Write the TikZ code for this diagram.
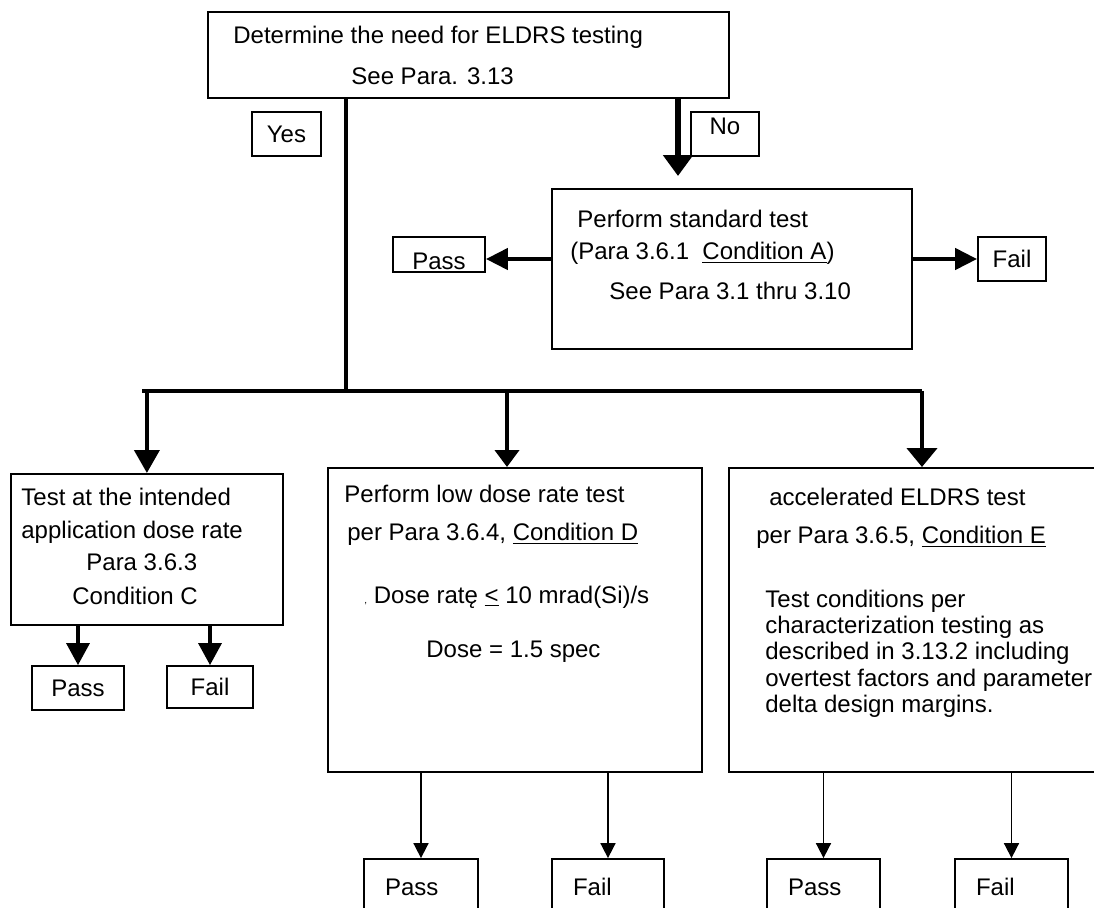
\documentclass[tikz,border=0pt]{standalone}
\usepackage{fontspec}
\setmainfont{Liberation Sans}
\usetikzlibrary{arrows.meta}

\tikzset{
    boxline/.style={draw, line width=0.9pt, inner sep=0pt, anchor=north west},
    tbox/.style={draw, line width=0.9pt, inner sep=0pt, minimum height=22pt},
    endbox/.style={draw, line width=0.9pt, inner xsep=10.5pt, inner ysep=0pt, minimum height=28pt, text width=#1, align=left},
    txt/.style={anchor=base west, inner sep=0pt},
    trunk/.style={line width=1.7pt},
    droparrow/.style={-{Triangle[width=12pt,length=10pt]}, line width=2pt},
    noarrow/.style={-{Triangle[width=14.5pt,length=10.5pt]}, line width=3pt},
    sidearrow/.style={-{Triangle[width=10.5pt,length=11pt]}, line width=2.2pt},
    smallarrow/.style={-{Triangle[width=11.5pt,length=11pt]}, line width=1.7pt},
    thinarrow/.style={-{Triangle[width=7.5pt,length=7.5pt]}, line width=0.85pt},
}

\begin{document}
\begin{tikzpicture}[x=0.5pt, y=-0.5pt, font=\fontsize{12pt}{14pt}\selectfont]

\useasboundingbox (0,0) rectangle (1094,907);
\clip (0,0) rectangle (1094,907);
\fill[white] (0,0) rectangle (1094,907);

% top question
  \node[boxline, minimum width=260.5pt, minimum height=43pt] (need) at (207,11) {};
  \node[txt] (need1) at (233,43) {Determine the need for ELDRS testing};
  \node[txt] (need2) at (351,84) {See Para. 3.13};

  \node[tbox, minimum width=34.5pt] (yes) at (286.5,134) {Yes};
  \node[tbox, minimum width=34pt, text depth=8pt] (no) at (725,134) {No};

% standard test
  \node[boxline, minimum width=180pt, minimum height=80pt] (std) at (551,188) {};
  \node[txt] (std1) at (577,227) {Perform standard test};
  \node[txt] (std2) at (570,259) {(Para 3.6.1\ \ \underline{Condition A})};
  \node[txt] (std3) at (609,299) {See Para 3.1 thru 3.10};

  \node[tbox, minimum width=46pt, minimum height=17.5pt, text height=15pt] (passA) at (439,254.5) {Pass};
  \node[tbox, minimum width=34pt] (failA) at (1012,259) {Fail};

% condition C
  \node[boxline, minimum width=136pt, minimum height=75.5pt] (appl) at (10,473) {};
  \node[txt] (appl1) at (21,505) {Test at the intended};
  \node[txt] (appl2) at (21,538) {application dose rate};
  \node[txt] (appl3) at (86,570) {Para 3.6.3};
  \node[txt] (appl4) at (72,604) {Condition C};

  \node[tbox, minimum width=46pt] (passC) at (78,688) {Pass};
  \node[tbox, minimum width=43pt, minimum height=21pt] (failC) at (210,687) {Fail};

% condition D
  \node[boxline, minimum width=187pt, minimum height=152pt] (lowdr) at (327,467) {};
  \node[txt] (lowdr1) at (344,502) {Perform low dose rate test};
  \node[txt] (lowdr2) at (347,540) {per Para 3.6.4, \underline{Condition D}};
  \node[txt] (lowdr3) at (364,603) {{\fontsize{5pt}{5pt}\selectfont ,}\ Dose ratę \underline{<} 10 mrad(Si)/s};
  \node[txt] (lowdr4) at (426,657) {Dose = 1.5 spec};

% condition E
  \node[boxline, minimum width=191pt, minimum height=152pt] (accel) at (728,467) {};
  \node[txt] (accel1) at (769,505) {accelerated ELDRS test};
  \node[txt] (accel2) at (756,543) {per Para 3.6.5, \underline{Condition E}};
  \node[txt] (accel3) at (765,607) {Test conditions per};
  \node[txt] (accel4) at (765,633) {characterization testing as};
  \node[txt] (accel5) at (765,659) {described in 3.13.2 including};
  \node[txt] (accel6) at (765,686) {overtest factors and parameter};
  \node[txt] (accel7) at (765,712) {delta design margins.};

% outcomes at the bottom
  \node[endbox=36pt] (passD) at (421,887) {Pass};
  \node[endbox=35pt] (failD) at (608,887) {Fail};
  \node[endbox=35.5pt] (passE) at (823.5,887) {Pass};
  \node[endbox=35.5pt] (failE) at (1011.5,887) {Fail};

% trunk and branches
  \coordinate (split) at (346,391);
  \coordinate (barL) at (142,391);
  \coordinate (barR) at (922,391);
  \coordinate (midD) at (507,391);
  \coordinate (noTip) at (678,176);

  \draw[trunk] (need.south -| split) -- (split);
  \draw[trunk] (barL) -- (barR);
  \draw[droparrow, -{Triangle[width=12.5pt,length=11.5pt]}] (barL -| appl.north) -- (appl.north);
  \draw[droparrow, -{Triangle[width=12pt,length=8.5pt]}] (midD) -- (midD |- lowdr.north);
  \draw[droparrow, -{Triangle[width=15pt,length=9.5pt]}, line width=2.2pt] (barR) -- (barR |- accel.north);

  \draw[noarrow] (need.south -| noTip) -- (noTip);
  \draw[sidearrow] (std.west |- failA) -- (passA.east |- failA);
  \draw[sidearrow] (std.east |- failA) -- (failA.west);

  \draw[smallarrow] (appl.south -| passC) -- (passC.north);
  \draw[smallarrow] (appl.south -| failC) -- (failC.north);

  \draw[thinarrow] (lowdr.south -| passD) -- (passD.north);
  \draw[thinarrow] (lowdr.south -| failD) -- (failD.north);
  \draw[thinarrow] (accel.south -| passE) -- (passE.north);
  \draw[thinarrow] (accel.south -| failE) -- (failE.north);

\end{tikzpicture}
\end{document}
